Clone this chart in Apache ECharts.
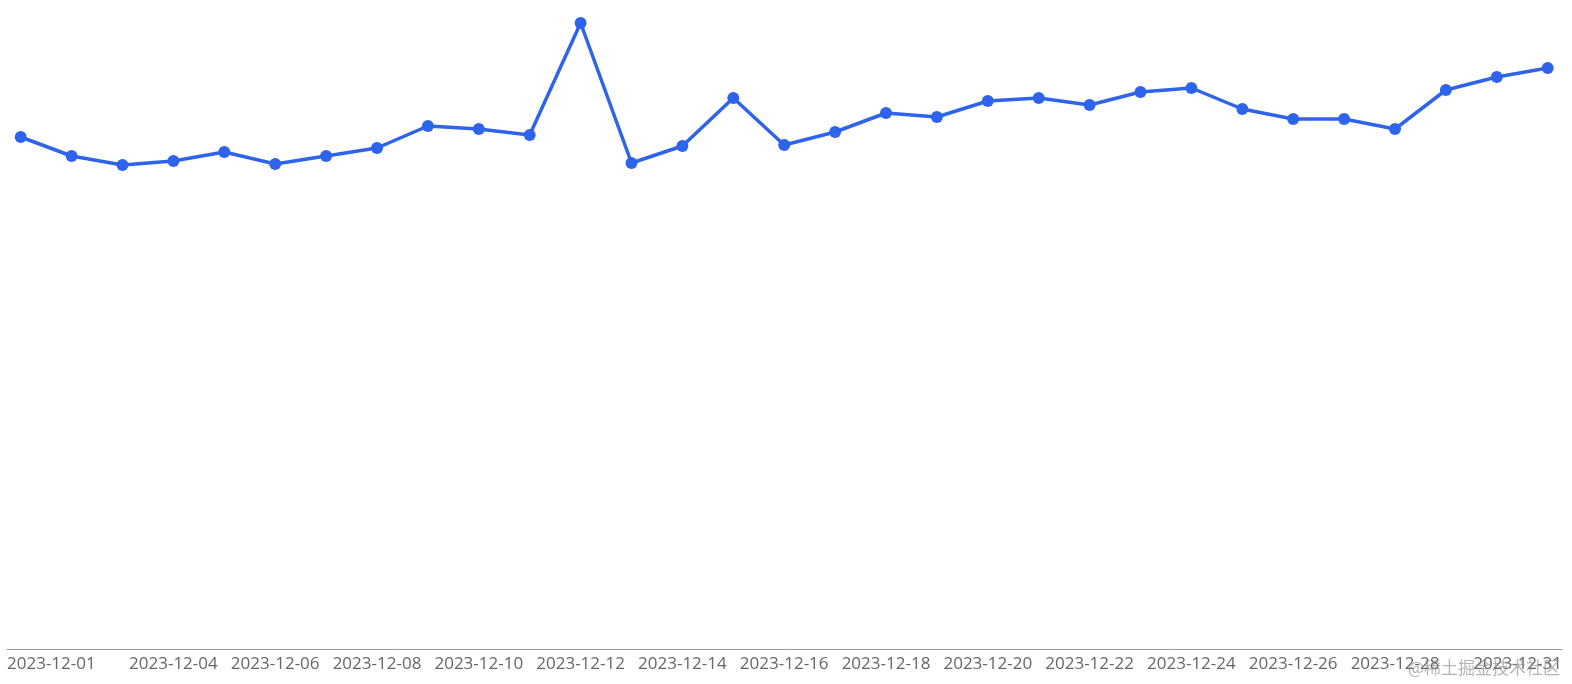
<!DOCTYPE html>
<html>
<head>
<meta charset="utf-8">
<script src="https://cdn.jsdelivr.net/npm/echarts@6/dist/echarts.min.js"></script>
<style>
html,body{margin:0;padding:0;background:#fff;}
#chart{width:1572px;height:684px;}
</style>
</head>
<body>
<div id="chart"></div>
<script>
const dates = ['2023-12-01','2023-12-02','2023-12-03','2023-12-04','2023-12-05','2023-12-06','2023-12-07','2023-12-08','2023-12-09','2023-12-10','2023-12-11','2023-12-12','2023-12-13','2023-12-14','2023-12-15','2023-12-16','2023-12-17','2023-12-18','2023-12-19','2023-12-20','2023-12-21','2023-12-22','2023-12-23','2023-12-24','2023-12-25','2023-12-26','2023-12-27','2023-12-28','2023-12-29','2023-12-30','2023-12-31'];
const values = [512,493,484,488,497,485,493,501,523,520,514,626,486,503,551,504,517,536,532,548,551,544,557,561,540,530,530,520,559,572,581];
const watermark = '@稀土掘金技术社区';

const labelStyle = { color:'#666666', fontSize:17, fontFamily:'"Open Sans", "Noto Sans", sans-serif' };

const chart = echarts.init(document.getElementById('chart'), null, {renderer:'canvas'});
chart.setOption({
  animation:false,
  backgroundColor:'#ffffff',
  grid:[
    {left:20.7, right:24.3, top:8, bottom:35},
    {left:7, right:10, top:8, bottom:35}
  ],
  xAxis:[
    {type:'category', gridIndex:0, data:dates, boundaryGap:false,
     axisLine:{show:false}, axisTick:{show:false}, splitLine:{show:false},
     axisLabel:Object.assign({margin:7, interval:function(i){return i>=3 && i<=27 && i%2===1;}}, labelStyle)},
    {type:'category', gridIndex:1, data:dates, boundaryGap:false,
     axisLine:{show:true, lineStyle:{color:'#9a9a9a', width:1}}, axisTick:{show:false}, splitLine:{show:false},
     axisLabel:Object.assign({margin:7, alignMinLabel:'left', alignMaxLabel:'right',
       interval:function(i){return i===0 || i===dates.length-1;}}, labelStyle)}
  ],
  yAxis:[
    {type:'value', gridIndex:0, min:0, max:641, show:false, splitLine:{show:false}},
    {type:'value', gridIndex:1, min:0, max:641, show:false, splitLine:{show:false}}
  ],
  graphic:[
    {type:'text', right:12, bottom:8, z:100,
     style:{text:watermark, fill:'rgba(130,130,130,0.6)', fontSize:17, fontFamily:'"Noto Sans CJK SC", sans-serif'}}
  ],
  series:[{
    type:'line', xAxisIndex:0, yAxisIndex:0, data:values,
    symbol:'circle', symbolSize:12, showAllSymbol:true,
    lineStyle:{color:'#2e63eb', width:3.5},
    itemStyle:{color:'#2e63eb'}
  }]
});
</script>
</body>
</html>
